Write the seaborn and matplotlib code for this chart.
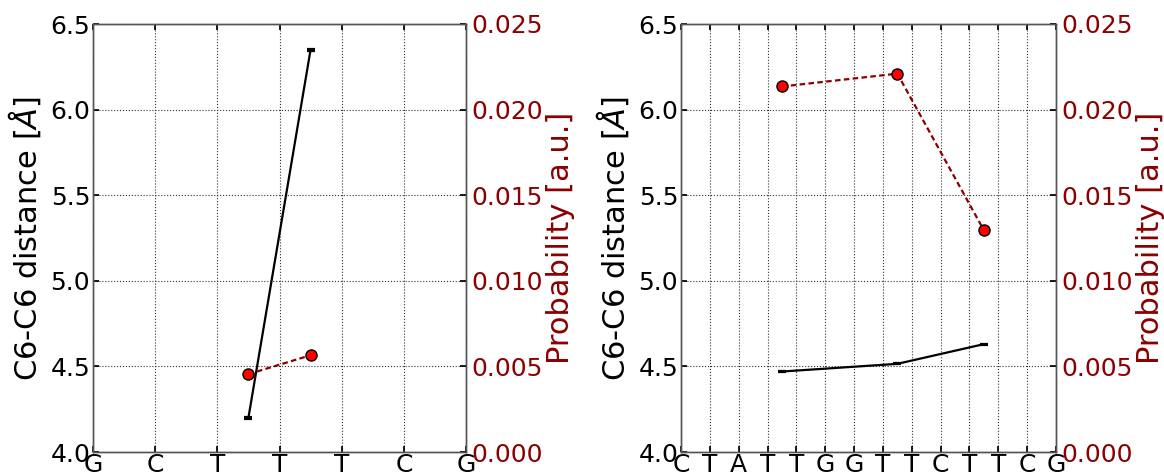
import matplotlib
matplotlib.use("Agg")
import matplotlib.pyplot as plt
import seaborn as sns
import pandas as pd

# Sequences along the x axis
seq_left = ["G", "C", "T", "T", "T", "C", "G"]
seq_right = ["C", "T", "A", "T", "T", "G", "G", "T", "T", "C", "T", "T", "C", "G"]

# Step positions (between bases) with distances, errors and probabilities
pos_left = [2.5, 3.5]
dist_left = [4.20, 6.35]
err_left = [0.005, 0.005]
prob_left = [0.00455, 0.00565]

pos_right = [3.5, 7.5, 10.5]
dist_right = [4.47, 4.515, 4.63]
err_right = [0.003, 0.003, 0.003]
prob_right = [0.02135, 0.0221, 0.01295]

sns.set_theme(style="white")
plt.rcParams["font.family"] = ["DejaVu Sans"]
plt.rcParams["mathtext.fontset"] = "dejavusans"
plt.rcParams["text.color"] = "black"
plt.rcParams["axes.labelcolor"] = "black"

RED = "#8b0000"

fig = plt.figure(figsize=(11.64, 4.76), dpi=100)
ax_l = fig.add_axes([93 / 1164, 24 / 476, 373 / 1164, 428 / 476])
ax_r = fig.add_axes([681 / 1164, 24 / 476, 375 / 1164, 428 / 476])


def draw(ax, seq, pos, dist, err, prob):
    df_d = pd.DataFrame({"pos": pos, "dist": dist})
    df_p = pd.DataFrame({"pos": pos, "prob": prob})
    sns.lineplot(data=df_d, x="pos", y="dist", ax=ax, color="black", lw=1.6)
    ax.errorbar(pos, dist, yerr=err, fmt="none", ecolor="black",
                elinewidth=1.6, capsize=3, capthick=1.6)
    ax.set_xlim(0, len(seq) - 1)
    ax.set_ylim(4.0, 6.5)
    ax.set_xticks(range(len(seq)))
    ax.set_xticklabels(seq)
    ax.set_yticks([4.0, 4.5, 5.0, 5.5, 6.0, 6.5])
    ax.set_yticklabels(["4.0", "4.5", "5.0", "5.5", "6.0", "6.5"])
    ax.grid(True, color="#333333", linestyle=":", linewidth=0.8)
    ax.tick_params(axis="both", direction="in", length=4, labelsize=18,
                   colors="black", top=True, bottom=True, left=True)
    ax.tick_params(axis="x", pad=1)
    ax.tick_params(axis="y", pad=2)
    ax.set_xlabel("")
    ax.set_ylabel(r"C6-C6 distance [$\AA$]", fontsize=22, labelpad=5,
                  color="black")
    for s in ax.spines.values():
        s.set_color("#555555")
        s.set_linewidth(1.0)

    ax2 = ax.twinx()
    sns.lineplot(data=df_p, x="pos", y="prob", ax=ax2, color=RED, lw=1.6,
                 linestyle=(0, (2.5, 1.5)), marker="o", markersize=8,
                 markerfacecolor="red", markeredgecolor="black",
                 markeredgewidth=1.0)
    ax2.set_ylim(0, 0.025)
    ax2.set_yticks([0.0, 0.005, 0.010, 0.015, 0.020, 0.025])
    ax2.set_yticklabels(["0.000", "0.005", "0.010", "0.015", "0.020", "0.025"])
    ax2.tick_params(axis="y", direction="in", length=4, labelsize=18,
                    labelcolor=RED, color="black", pad=4)
    ax2.set_xlabel("")
    ax2.set_ylabel("Probability [a.u.]", fontsize=22, color=RED, labelpad=2)
    for s in ax2.spines.values():
        s.set_color("#555555")
        s.set_linewidth(1.0)


draw(ax_l, seq_left, pos_left, dist_left, err_left, prob_left)
draw(ax_r, seq_right, pos_right, dist_right, err_right, prob_right)

fig.savefig("out.png", dpi=100)
